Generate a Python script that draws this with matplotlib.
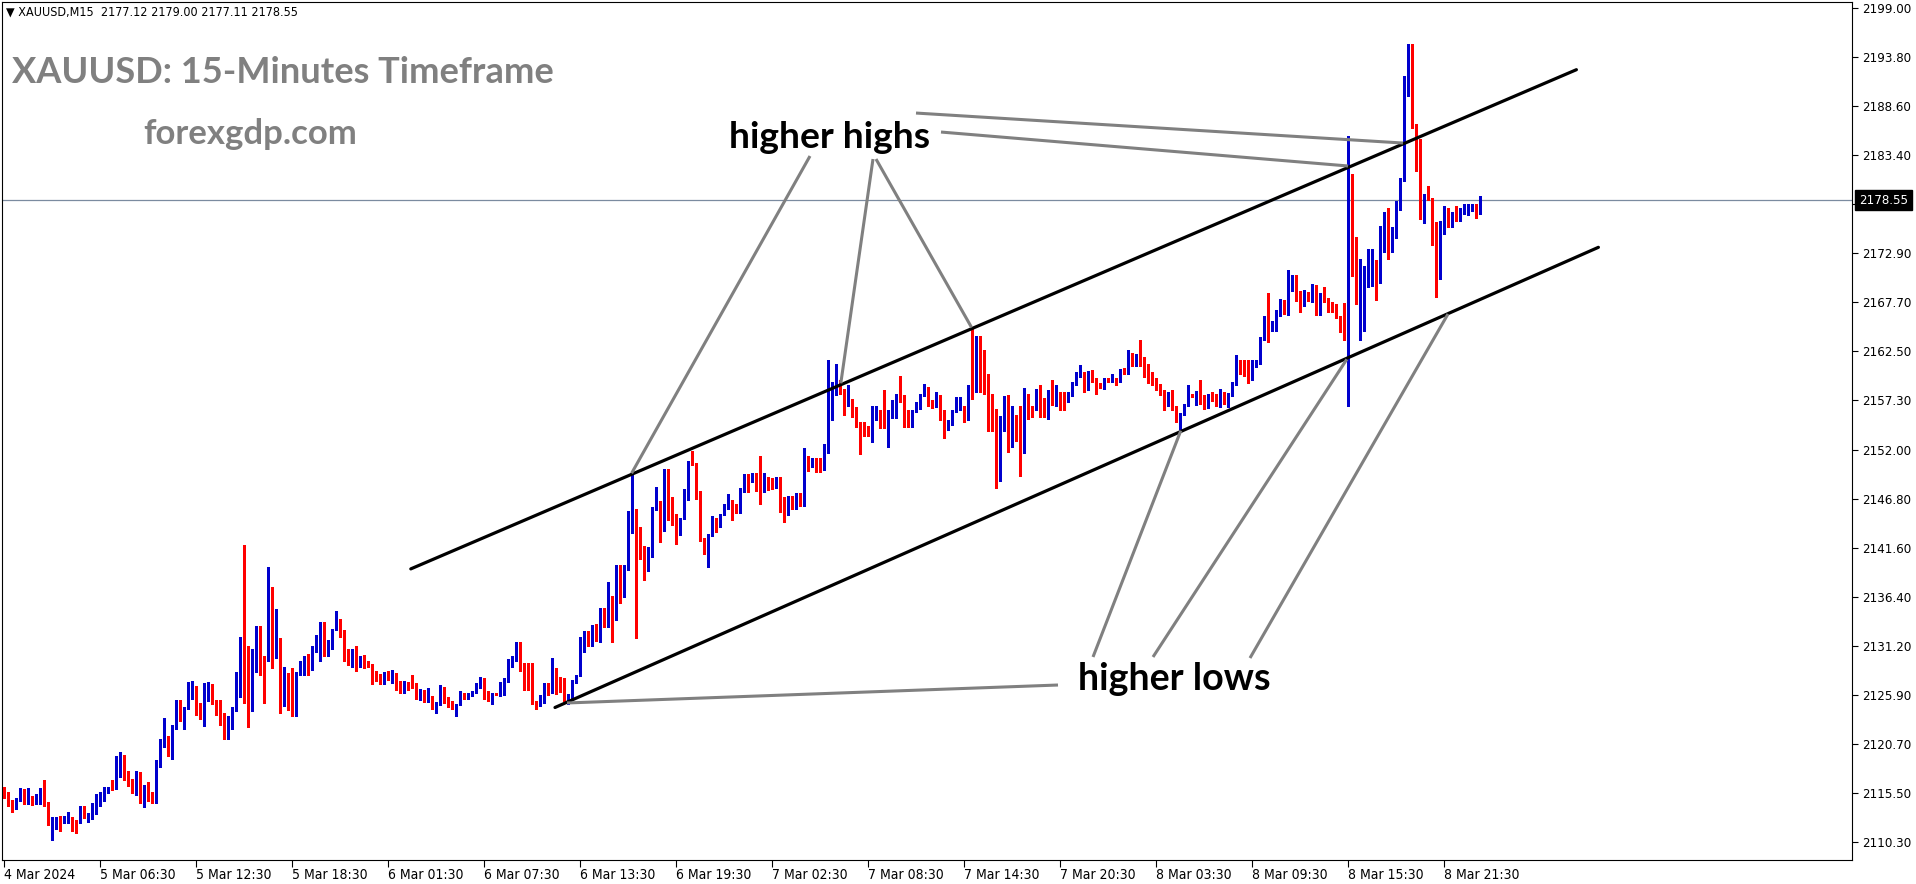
import matplotlib
matplotlib.use("Agg")
import matplotlib.pyplot as plt

W, H = 1916, 884

# ---- data (XAUUSD M15, 370 bars) ----
opens = [
    2116.2, 2115.4, 2114.6, 2113.9, 2114.7, 2115.2, 2114.7, 2115.2, 2114.3, 2114.7,
    2115.6, 2114.4, 2112.3, 2112.3, 2112.8, 2112.3, 2112.6, 2112.8, 2112.4, 2112.3,
    2113.8, 2113.0, 2113.0, 2113.5, 2114.2, 2114.7, 2115.9, 2116.3, 2115.9, 2117.9,
    2119.4, 2117.6, 2116.5, 2115.6, 2117.4, 2114.7, 2115.6, 2115.4, 2114.5, 2118.8,
    2120.9, 2121.3, 2120.8, 2122.4, 2125.0, 2124.3, 2124.5, 2126.6, 2126.8, 2124.5,
    2123.7, 2126.7, 2126.9, 2125.3, 2124.7, 2123.2, 2122.1, 2122.3, 2124.4, 2127.3,
    2132.0, 2127.9, 2128.1, 2130.4, 2132.0, 2128.3, 2131.3, 2135.2, 2131.5, 2132.0,
    2126.7, 2127.3, 2126.4, 2124.9, 2128.4, 2128.6, 2129.7, 2128.7, 2130.9, 2132.0,
    2133.6, 2130.1, 2130.8, 2132.8, 2133.9, 2132.4, 2129.7, 2129.4, 2130.7, 2129.0,
    2129.7, 2129.4, 2129.2, 2128.0, 2128.1, 2127.2, 2128.2, 2127.5, 2128.1, 2127.2,
    2126.8, 2127.2, 2127.2, 2126.7, 2125.6, 2126.3, 2125.5, 2125.7, 2124.5, 2125.0,
    2126.5, 2125.7, 2124.9, 2124.7, 2124.9, 2126.1, 2125.7, 2125.8, 2126.2, 2126.8,
    2127.4, 2125.7, 2125.5, 2126.2, 2125.9, 2126.2, 2127.4, 2129.5, 2129.6, 2131.5,
    2128.6, 2128.6, 2127.5, 2125.3, 2125.2, 2125.7, 2126.8, 2126.2, 2128.7, 2127.7,
    2127.7, 2125.5, 2125.6, 2127.3, 2128.0, 2130.6, 2132.6, 2131.9, 2133.3, 2132.4,
    2134.2, 2133.3, 2135.0, 2134.9, 2139.6, 2137.1, 2139.2, 2143.2, 2143.2, 2141.6,
    2141.1, 2140.3, 2140.9, 2145.8, 2146.5, 2145.1, 2148.4, 2146.8, 2144.8, 2143.4,
    2144.8, 2147.2, 2150.8, 2150.4, 2147.4, 2142.5, 2141.4, 2142.9, 2144.5, 2144.3,
    2145.2, 2145.7, 2146.7, 2146.1, 2145.4, 2147.7, 2149.0, 2148.7, 2149.1, 2147.8,
    2147.5, 2148.6, 2148.5, 2148.0, 2149.1, 2146.0, 2145.5, 2147.1, 2146.2, 2146.5,
    2146.0, 2151.3, 2150.6, 2150.7, 2150.5, 2150.2, 2151.7, 2155.4, 2158.3, 2159.3,
    2158.4, 2156.7, 2157.4, 2156.5, 2154.6, 2154.5, 2154.0, 2153.6, 2155.6, 2155.8,
    2155.5, 2155.2, 2156.0, 2156.3, 2157.5, 2157.3, 2155.4, 2154.5, 2156.0, 2156.5,
    2157.8, 2157.9, 2156.9, 2156.7, 2157.7, 2155.2, 2154.1, 2154.8, 2156.0, 2156.4,
    2156.7, 2155.2, 2158.4, 2158.2, 2161.4, 2160.8, 2159.6, 2156.0, 2155.1, 2148.7,
    2154.0, 2157.4, 2153.0, 2155.3, 2153.8, 2151.7, 2157.9, 2156.7, 2156.3, 2158.2,
    2157.1, 2155.6, 2158.4, 2157.7, 2157.9, 2157.7, 2157.2, 2157.9, 2158.9, 2159.8,
    2160.1, 2158.5, 2160.4, 2159.5, 2158.9, 2158.6, 2159.5, 2159.4, 2159.5, 2159.3,
    2160.6, 2160.1, 2162.2, 2161.3, 2162.4, 2161.4, 2161.1, 2159.4, 2159.2, 2158.6,
    2157.9, 2156.7, 2158.0, 2156.3, 2155.5, 2155.7, 2156.7, 2157.9, 2157.7, 2158.2,
    2157.6, 2156.5, 2157.9, 2157.8, 2156.8, 2158.2, 2157.9, 2157.9, 2158.9, 2161.4,
    2161.3, 2160.3, 2160.0, 2161.0, 2161.2, 2163.7, 2166.1, 2165.0, 2165.2, 2166.7,
    2167.7, 2166.7, 2169.0, 2170.4, 2168.8, 2167.8, 2168.6, 2167.8, 2169.4, 2166.9,
    2168.4, 2167.9, 2167.7, 2167.5, 2166.0, 2165.2, 2164.9, 2180.7, 2171.3, 2167.5,
    2169.5, 2169.7, 2170.8, 2170.9, 2169.9, 2173.1, 2177.2, 2173.0, 2174.5, 2177.7,
    2180.6, 2190.6, 2193.1, 2186.6, 2185.0, 2178.2, 2178.9, 2178.8, 2174.5, 2170.8,
    2175.0, 2177.5, 2176.4, 2176.9, 2176.9, 2177.1, 2177.3, 2177.4, 2177.7, 2177.12,
]
highs = [
    2116.2, 2115.6, 2114.8, 2115.0, 2116.0, 2115.9, 2116.0, 2115.2, 2115.4, 2116.0,
    2116.9, 2114.6, 2113.0, 2113.0, 2113.1, 2113.1, 2113.5, 2113.0, 2112.6, 2114.1,
    2114.1, 2113.4, 2114.5, 2115.4, 2115.6, 2116.2, 2116.2, 2116.9, 2119.4, 2119.9,
    2119.6, 2117.9, 2117.0, 2117.9, 2117.8, 2116.4, 2116.7, 2115.6, 2119.0, 2121.3,
    2123.5, 2121.6, 2122.7, 2125.4, 2125.4, 2124.7, 2127.3, 2127.4, 2126.9, 2125.1,
    2127.2, 2127.3, 2127.1, 2125.4, 2125.4, 2124.0, 2123.7, 2124.7, 2128.4, 2132.1,
    2141.9, 2131.2, 2130.8, 2133.3, 2133.3, 2130.1, 2139.6, 2137.4, 2135.1, 2132.0,
    2128.9, 2128.3, 2128.8, 2128.4, 2129.6, 2130.1, 2130.3, 2131.2, 2132.3, 2133.7,
    2133.7, 2131.8, 2133.0, 2134.9, 2134.0, 2132.8, 2130.8, 2130.8, 2131.1, 2130.1,
    2130.2, 2129.6, 2129.2, 2128.5, 2128.2, 2128.4, 2128.5, 2128.6, 2128.3, 2127.4,
    2127.4, 2127.3, 2128.1, 2127.2, 2126.6, 2126.5, 2126.7, 2125.8, 2125.2, 2127.0,
    2126.8, 2125.7, 2125.3, 2125.0, 2126.4, 2126.2, 2126.2, 2126.4, 2127.2, 2127.9,
    2127.7, 2126.4, 2126.2, 2126.2, 2127.3, 2127.7, 2129.8, 2130.1, 2131.6, 2131.6,
    2129.3, 2129.3, 2129.3, 2125.3, 2125.9, 2127.2, 2127.2, 2129.9, 2128.8, 2127.8,
    2127.7, 2126.0, 2127.5, 2128.1, 2132.1, 2132.7, 2132.7, 2133.4, 2133.5, 2135.2,
    2135.2, 2138.0, 2136.5, 2139.8, 2139.8, 2139.8, 2145.5, 2149.4, 2145.7, 2143.8,
    2141.8, 2141.7, 2145.9, 2148.1, 2146.6, 2150.0, 2150.0, 2147.0, 2145.2, 2144.8,
    2147.8, 2150.8, 2151.9, 2150.6, 2147.6, 2142.6, 2143.1, 2145.0, 2144.8, 2145.2,
    2146.2, 2147.3, 2146.7, 2146.2, 2147.9, 2149.4, 2149.4, 2149.6, 2149.6, 2151.4,
    2149.6, 2149.1, 2149.0, 2149.1, 2149.1, 2147.0, 2147.1, 2147.1, 2147.4, 2147.4,
    2152.2, 2151.4, 2151.1, 2151.1, 2151.1, 2152.6, 2161.6, 2159.2, 2161.1, 2159.4,
    2158.5, 2158.9, 2157.4, 2156.6, 2155.0, 2155.0, 2154.5, 2156.7, 2156.7, 2156.2,
    2158.4, 2156.2, 2157.3, 2157.9, 2159.9, 2157.8, 2156.2, 2156.2, 2157.1, 2157.9,
    2159.0, 2158.7, 2157.3, 2158.2, 2157.8, 2156.3, 2155.2, 2156.3, 2157.6, 2157.6,
    2156.7, 2158.9, 2165.0, 2164.1, 2164.1, 2162.6, 2160.1, 2157.9, 2156.4, 2155.6,
    2157.7, 2157.8, 2156.7, 2155.7, 2156.7, 2158.6, 2157.9, 2156.7, 2158.5, 2158.9,
    2157.5, 2158.4, 2159.4, 2158.9, 2158.2, 2158.2, 2158.2, 2159.2, 2160.3, 2161.0,
    2160.3, 2160.4, 2160.5, 2159.6, 2159.1, 2159.6, 2159.6, 2160.1, 2159.7, 2160.6,
    2160.7, 2162.6, 2162.3, 2162.2, 2163.7, 2161.9, 2161.1, 2160.3, 2159.6, 2159.0,
    2158.4, 2158.2, 2158.4, 2156.7, 2155.9, 2156.9, 2158.9, 2158.0, 2158.3, 2159.4,
    2157.8, 2157.9, 2158.2, 2157.9, 2158.5, 2158.2, 2158.1, 2159.2, 2162.1, 2161.6,
    2161.6, 2161.6, 2161.6, 2161.6, 2164.0, 2166.2, 2168.7, 2165.7, 2166.9, 2168.1,
    2167.9, 2171.1, 2170.6, 2170.6, 2168.9, 2169.0, 2168.8, 2169.7, 2169.5, 2168.7,
    2169.3, 2168.2, 2167.7, 2167.5, 2166.2, 2167.6, 2185.4, 2181.4, 2174.7, 2172.3,
    2171.6, 2173.4, 2173.4, 2172.2, 2175.8, 2177.3, 2177.7, 2175.7, 2178.5, 2180.9,
    2191.8, 2195.2, 2195.2, 2186.7, 2185.1, 2179.2, 2180.1, 2178.8, 2176.2, 2176.4,
    2177.9, 2177.7, 2177.3, 2177.9, 2177.7, 2178.2, 2178.2, 2178.2, 2178.2, 2179.0,
]
lows = [
    2115.0, 2114.1, 2113.5, 2113.8, 2114.7, 2114.3, 2114.3, 2114.2, 2114.3, 2114.3,
    2114.1, 2112.1, 2110.5, 2111.7, 2111.5, 2112.3, 2112.3, 2111.5, 2111.3, 2112.3,
    2112.9, 2112.4, 2112.8, 2113.3, 2114.1, 2114.7, 2115.5, 2115.8, 2115.9, 2117.2,
    2116.9, 2116.3, 2115.5, 2115.3, 2114.5, 2114.0, 2114.7, 2114.4, 2114.5, 2118.3,
    2120.4, 2119.4, 2119.1, 2122.3, 2123.2, 2122.3, 2124.5, 2125.5, 2123.8, 2123.4,
    2122.6, 2125.3, 2125.0, 2123.8, 2122.7, 2121.3, 2121.3, 2122.3, 2124.2, 2125.7,
    2125.1, 2122.5, 2124.2, 2128.4, 2128.1, 2125.1, 2129.6, 2128.8, 2129.9, 2124.0,
    2124.8, 2124.3, 2123.7, 2123.7, 2128.1, 2128.1, 2128.1, 2128.6, 2130.5, 2129.6,
    2130.1, 2130.1, 2130.8, 2132.8, 2132.1, 2129.6, 2129.1, 2128.9, 2128.5, 2128.9,
    2128.8, 2128.9, 2127.1, 2127.4, 2127.1, 2127.1, 2127.5, 2127.2, 2126.5, 2126.2,
    2126.2, 2126.5, 2126.7, 2125.5, 2125.4, 2125.2, 2125.2, 2124.5, 2124.0, 2124.9,
    2125.1, 2124.7, 2124.5, 2123.7, 2124.9, 2125.5, 2125.5, 2125.8, 2126.2, 2126.7,
    2125.5, 2125.3, 2125.0, 2125.9, 2125.8, 2125.9, 2127.3, 2128.9, 2129.6, 2128.5,
    2126.5, 2126.5, 2125.0, 2124.4, 2124.8, 2125.1, 2125.9, 2126.2, 2126.0, 2126.3,
    2125.3, 2125.0, 2125.5, 2127.2, 2128.0, 2130.5, 2131.2, 2131.2, 2131.7, 2131.6,
    2133.2, 2133.2, 2131.6, 2133.9, 2135.7, 2136.4, 2139.2, 2143.2, 2132.0, 2140.4,
    2138.2, 2139.1, 2140.6, 2145.6, 2142.2, 2143.4, 2144.5, 2144.0, 2142.0, 2143.0,
    2144.7, 2146.7, 2150.4, 2146.8, 2142.3, 2140.9, 2139.5, 2142.8, 2143.3, 2143.8,
    2145.1, 2145.7, 2144.5, 2145.3, 2145.3, 2147.5, 2147.5, 2148.6, 2147.6, 2146.2,
    2147.5, 2147.7, 2147.8, 2147.9, 2145.4, 2144.3, 2145.1, 2145.7, 2145.7, 2146.0,
    2146.0, 2149.8, 2150.2, 2149.7, 2149.7, 2149.9, 2151.7, 2155.2, 2157.8, 2157.9,
    2155.7, 2156.7, 2155.5, 2154.4, 2151.6, 2153.5, 2153.5, 2152.8, 2155.2, 2154.3,
    2154.3, 2152.3, 2155.4, 2155.4, 2157.1, 2154.4, 2154.4, 2154.4, 2156.0, 2156.4,
    2157.7, 2156.7, 2156.5, 2156.6, 2155.2, 2153.3, 2154.1, 2154.7, 2156.0, 2156.2,
    2155.0, 2155.2, 2157.4, 2158.2, 2158.2, 2158.0, 2154.0, 2154.0, 2148.0, 2148.7,
    2154.0, 2151.8, 2152.3, 2152.9, 2149.2, 2151.7, 2155.3, 2155.5, 2156.3, 2155.5,
    2155.5, 2155.3, 2156.8, 2156.7, 2156.2, 2156.2, 2157.1, 2157.7, 2158.9, 2159.8,
    2158.2, 2158.4, 2159.2, 2158.0, 2158.6, 2158.5, 2159.2, 2159.2, 2158.9, 2159.2,
    2160.1, 2160.1, 2160.9, 2160.9, 2160.9, 2159.8, 2159.1, 2158.9, 2158.4, 2157.8,
    2156.3, 2156.7, 2156.2, 2155.0, 2154.1, 2155.7, 2156.7, 2157.6, 2156.8, 2156.9,
    2156.4, 2156.5, 2157.2, 2156.7, 2156.6, 2156.9, 2156.6, 2157.7, 2158.9, 2160.1,
    2159.9, 2159.1, 2159.4, 2160.8, 2161.1, 2163.7, 2163.5, 2164.7, 2164.7, 2166.2,
    2166.5, 2166.3, 2168.9, 2167.8, 2166.7, 2167.3, 2167.8, 2167.7, 2166.3, 2166.3,
    2167.7, 2166.7, 2166.7, 2166.0, 2164.5, 2163.7, 2156.7, 2170.5, 2167.5, 2163.7,
    2164.7, 2169.3, 2169.4, 2167.9, 2169.8, 2173.0, 2172.3, 2173.0, 2174.5, 2177.5,
    2180.6, 2189.6, 2186.2, 2181.7, 2176.6, 2176.1, 2178.6, 2173.8, 2168.3, 2170.2,
    2175.0, 2175.7, 2175.7, 2176.3, 2176.4, 2177.1, 2177.0, 2177.4, 2176.7, 2177.11,
]
closes = [
    2115.3, 2114.3, 2113.8, 2115.0, 2115.2, 2114.7, 2115.2, 2114.3, 2114.7, 2115.6,
    2114.3, 2112.3, 2112.6, 2112.8, 2112.3, 2112.8, 2112.8, 2112.3, 2112.3, 2113.8,
    2113.0, 2113.2, 2113.6, 2114.3, 2114.9, 2116.1, 2116.2, 2115.9, 2117.9, 2119.4,
    2117.3, 2116.4, 2115.7, 2117.4, 2114.6, 2115.6, 2115.2, 2114.5, 2118.8, 2121.1,
    2121.3, 2120.8, 2122.5, 2125.1, 2124.3, 2124.7, 2126.8, 2126.8, 2124.5, 2123.8,
    2126.9, 2127.0, 2125.2, 2124.5, 2123.2, 2122.1, 2122.4, 2124.5, 2127.3, 2131.9,
    2128.1, 2127.8, 2130.5, 2132.0, 2128.4, 2128.1, 2135.2, 2131.6, 2132.0, 2126.7,
    2127.2, 2126.4, 2124.7, 2128.4, 2128.8, 2129.7, 2128.6, 2131.1, 2132.1, 2133.6,
    2130.1, 2130.8, 2132.8, 2133.9, 2132.2, 2129.6, 2129.4, 2130.7, 2129.0, 2129.7,
    2129.4, 2129.1, 2127.9, 2127.9, 2127.2, 2128.2, 2127.6, 2128.1, 2127.2, 2126.8,
    2127.1, 2126.9, 2126.7, 2125.6, 2126.2, 2125.5, 2125.7, 2124.6, 2125.0, 2126.5,
    2125.6, 2124.8, 2124.7, 2125.0, 2125.9, 2125.7, 2125.8, 2126.3, 2126.9, 2127.5,
    2125.7, 2125.5, 2126.2, 2125.9, 2126.2, 2127.4, 2129.6, 2129.6, 2131.6, 2128.5,
    2128.4, 2127.4, 2125.2, 2125.2, 2125.8, 2126.8, 2126.2, 2128.8, 2126.3, 2126.3,
    2125.5, 2125.9, 2127.4, 2128.0, 2130.6, 2132.6, 2131.9, 2133.3, 2132.4, 2134.3,
    2133.2, 2135.0, 2134.9, 2139.6, 2136.3, 2139.4, 2143.1, 2144.8, 2141.4, 2141.1,
    2140.2, 2141.2, 2145.9, 2146.4, 2145.2, 2148.3, 2146.8, 2144.1, 2143.5, 2144.8,
    2147.2, 2150.8, 2150.4, 2147.2, 2142.3, 2141.2, 2143.1, 2144.6, 2144.3, 2145.2,
    2145.8, 2146.8, 2145.8, 2145.5, 2147.8, 2148.0, 2148.7, 2149.1, 2147.7, 2147.4,
    2148.6, 2148.2, 2147.9, 2149.1, 2145.8, 2145.4, 2147.0, 2146.2, 2146.5, 2146.0,
    2151.3, 2150.8, 2150.9, 2150.6, 2150.2, 2151.8, 2155.6, 2159.2, 2159.1, 2158.3,
    2156.9, 2157.4, 2156.4, 2154.5, 2154.4, 2154.0, 2153.6, 2155.5, 2155.8, 2155.4,
    2155.2, 2156.2, 2156.4, 2157.4, 2157.2, 2155.3, 2154.5, 2156.1, 2156.7, 2157.9,
    2158.1, 2156.8, 2156.7, 2157.7, 2155.2, 2154.2, 2154.9, 2156.2, 2156.5, 2156.7,
    2155.2, 2158.4, 2158.1, 2161.3, 2160.7, 2159.6, 2155.9, 2154.8, 2148.7, 2154.1,
    2157.2, 2152.9, 2155.3, 2152.9, 2151.7, 2157.9, 2156.7, 2156.2, 2158.4, 2157.0,
    2155.5, 2158.4, 2157.6, 2158.2, 2157.2, 2157.2, 2158.0, 2159.1, 2159.9, 2160.1,
    2158.5, 2160.3, 2159.3, 2158.7, 2158.7, 2159.6, 2159.4, 2160.0, 2159.3, 2160.5,
    2160.2, 2162.1, 2161.3, 2162.2, 2161.3, 2160.9, 2159.2, 2159.0, 2158.5, 2157.9,
    2156.7, 2158.0, 2156.2, 2155.5, 2155.8, 2156.8, 2157.9, 2157.7, 2158.2, 2157.4,
    2156.6, 2157.9, 2157.7, 2156.9, 2158.2, 2157.8, 2158.0, 2159.1, 2161.4, 2161.2,
    2160.4, 2159.9, 2161.1, 2161.5, 2163.7, 2166.1, 2165.1, 2165.2, 2166.7, 2167.9,
    2166.6, 2169.1, 2170.4, 2167.9, 2167.9, 2168.6, 2167.9, 2169.4, 2167.0, 2168.4,
    2167.8, 2167.6, 2167.4, 2166.0, 2165.2, 2164.5, 2180.8, 2171.2, 2167.5, 2169.6,
    2169.6, 2170.9, 2170.9, 2169.9, 2173.2, 2177.3, 2173.1, 2174.6, 2177.8, 2180.7,
    2190.5, 2193.1, 2186.5, 2185.0, 2178.0, 2178.8, 2178.6, 2174.3, 2170.8, 2175.1,
    2177.5, 2176.4, 2177.2, 2176.7, 2177.2, 2177.3, 2177.6, 2177.7, 2177.1, 2178.55,
]

last_price = 2178.55
header = "\u25bc XAUUSD,M15  2177.12 2179.00 2177.11 2178.55"

ytick_vals = [2199.00 - k * 88.70 / 17 for k in range(18)]
ytick_labels = ["2199.00", "2193.80", "2188.60", "2183.40", "2178.10", "2172.90",
                "2167.70", "2162.50", "2157.30", "2152.00", "2146.80", "2141.60",
                "2136.40", "2131.20", "2125.90", "2120.70", "2115.50", "2110.30"]
xtick_bars = list(range(0, 361, 24))
xtick_labels = ["4 Mar 2024", "5 Mar 06:30", "5 Mar 12:30", "5 Mar 18:30",
                "6 Mar 01:30", "6 Mar 07:30", "6 Mar 13:30", "6 Mar 19:30",
                "7 Mar 02:30", "7 Mar 08:30", "7 Mar 14:30", "7 Mar 20:30",
                "8 Mar 03:30", "8 Mar 09:30", "8 Mar 15:30", "8 Mar 21:30"]

# channel lines (bar index, price)
upper_x, upper_y = [101.7, 393.1], [2139.35, 2192.44]
lower_x, lower_y = [137.75, 398.6], [2124.61, 2173.55]

# pointer lines from the labels (bar index, price)
hh_lines = [((201.5, 2183.26), (156.9, 2149.52)),
            ((217.25, 2182.94), (209.2, 2159.09)),
            ((218.0, 2182.94), (241.9, 2165.02)),
            ((228.0, 2187.83), (349.75, 2184.64)),
            ((234.25, 2185.81), (336.0, 2182.2))]
hl_lines = [((263.5, 2127.0), (140.75, 2125.09)),
            ((272.25, 2129.98), (294.2, 2154.05)),
            ((287.25, 2129.98), (335.7, 2161.64)),
            ((311.5, 2129.87), (361.0, 2166.46))]

BULL = "#0000cd"
BEAR = "#ff0000"

plt.rcParams["axes.linewidth"] = 0.8
fig = plt.figure(figsize=(W / 100, H / 100), dpi=100)
ax = fig.add_axes([2 / W, (H - 860) / H, (1852 - 2) / W, (860 - 2) / H])

n = len(closes)
xs = list(range(n))
cols = [BULL if c >= o else BEAR for o, c in zip(opens, closes)]
bottoms = [min(o, c) for o, c in zip(opens, closes)]
heights = [max(abs(c - o), 0.1) for o, c in zip(opens, closes)]

ax.vlines(xs, lows, highs, colors=cols, linewidth=0.8, antialiased=False, zorder=2)
ax.bar(xs, heights, bottom=bottoms, width=0.62, color=cols, linewidth=0, zorder=3)

ax.axhline(last_price, color="#7b8ba0", lw=0.9, zorder=1)

ax.plot(upper_x, upper_y, color="black", lw=2.3, solid_capstyle="round", zorder=4)
ax.plot(lower_x, lower_y, color="black", lw=2.3, solid_capstyle="round", zorder=4)
for (a, b) in hh_lines + hl_lines:
    ax.plot([a[0], b[0]], [a[1], b[1]], color="#808080", lw=2.2,
            solid_capstyle="butt", zorder=5)

ax.set_xlim(-0.5, 462.0)
ax.set_ylim(2108.39, 2199.64)

ax.yaxis.tick_right()
ax.set_yticks(ytick_vals)
ax.set_yticklabels(ytick_labels)
ax.set_xticks(xtick_bars)
ax.set_xticklabels(xtick_labels)
ax.tick_params(axis="y", direction="out", length=4, width=0.8, pad=3,
               labelsize=8.6, colors="black")
ax.tick_params(axis="x", direction="out", length=5, width=0.8, pad=1,
               labelsize=10, colors="black")
for lbl in ax.get_xticklabels():
    lbl.set_ha("left")
    lbl.set_fontstretch("condensed")
for sp in ax.spines.values():
    sp.set_color("black")

ax.annotate(f"{last_price:.2f}", xy=(1, last_price),
            xycoords=("axes fraction", "data"), xytext=(7, 0),
            textcoords="offset pixels", ha="left", va="center",
            color="white", fontsize=8.6,
            bbox=dict(boxstyle="square,pad=0.3", fc="black", ec="black"),
            annotation_clip=False, zorder=10)


def fit(t, target_w):
    fig.canvas.draw()
    w = t.get_window_extent().width
    t.set_fontsize(t.get_fontsize() * target_w / w)


hdr = fig.text(6 / W, 1 - 12 / H, header, fontsize=9, ha="left", va="center",
               fontstretch="condensed")
fit(hdr, 291)
title = fig.text(12 / W, 1 - 83 / H, "XAUUSD: 15-Minutes Timeframe",
                 fontfamily="Lato", fontweight="bold", color="#808080",
                 fontsize=26, ha="left", va="baseline")
fit(title, 542)
site = fig.text(143 / W, 1 - 144 / H, "forexgdp.com", fontfamily="Lato",
                fontweight="bold", color="#808080", fontsize=24,
                ha="left", va="baseline")
fit(site, 214)
t1 = ax.text(181.25, 2184.15, "higher highs", fontfamily="Lato",
             fontweight="bold", color="black", fontsize=24,
             ha="left", va="baseline", zorder=6)
fit(t1, 202)
t2 = ax.text(268.5, 2126.45, "higher lows", fontfamily="Lato",
             fontweight="bold", color="black", fontsize=24,
             ha="left", va="baseline", zorder=6)
fit(t2, 193)

fig.savefig("out.png", dpi=100, facecolor="white")
